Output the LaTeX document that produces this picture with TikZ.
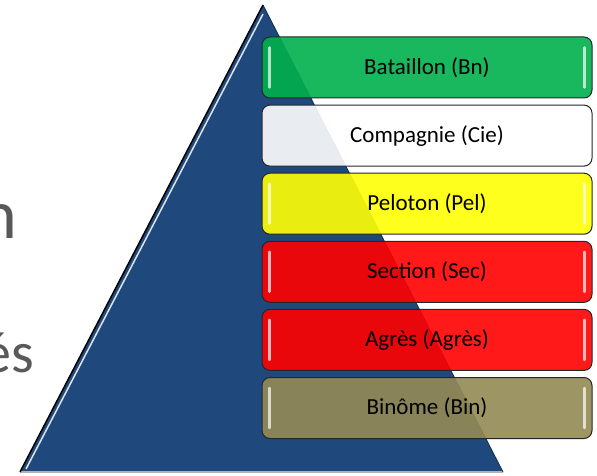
\documentclass[tikz,border=0pt]{standalone}
\usepackage{fontspec}
\setmainfont{Carlito}
\usetikzlibrary{positioning}

\definecolor{pyrblue}{HTML}{1F497D}
\definecolor{bngreen}{HTML}{00B04C}
\definecolor{pelyellow}{HTML}{FFFF05}
\definecolor{secred}{HTML}{FF0000}
\definecolor{binolive}{HTML}{948A54}
\definecolor{wordgray}{HTML}{595959}

\newcommand{\gloss}[1]{%
	\draw[shine] ([xshift=8pt,yshift=-11pt]#1.north west) -- ([xshift=8pt,yshift=11pt]#1.south west);
	\draw[shine] ([xshift=-8pt,yshift=-11pt]#1.north east) -- ([xshift=-8pt,yshift=11pt]#1.south east);}

\begin{document}
\begin{tikzpicture}[x=1pt, y=1pt, node distance=6.1pt]
		\tikzstyle{every node}=[font=\fontsize{23}{27}\selectfont]
		\tikzstyle{word}=[text=wordgray, anchor=base east, inner sep=0pt]
		\tikzstyle{rank}=[draw=black!85, line width=1pt, rounded corners=8pt, minimum width=330pt, minimum height=61pt, fill opacity=.9, text opacity=1, inner sep=0pt]
		\tikzstyle{shine}=[white, line width=2.5pt, line cap=round, opacity=.7]

		\useasboundingbox (0,0) rectangle (597,475);
		\clip (0,0) rectangle (597,475);

		% cut words on the left
		\node[word, font=\fontsize{70}{76}\selectfont] (wn) at (17,237) {n};
		\node[word, font=\fontsize{58}{64}\selectfont] (wes) at (34.5,103) {és};

		% pyramid
		\coordinate (top) at (263,470);
		\coordinate (bl) at (20,3);
		\coordinate (br) at (503,3);
		\fill[pyrblue] (top) -- (bl) -- (br) -- cycle;
		\draw[gray!60, line width=2pt] (bl) -- (br);
		\draw[pyrblue!60!black, line width=.8pt] (top) -- (br);
		\draw[line width=1.5pt] (bl) -- (top);
		\draw[white, line width=1.5pt, opacity=.85] (26,6) -- (263,461);

		% levels
		\node[rank, fill=bngreen] (bn) at (427,407.5) {Bataillon (Bn)};
		\node[rank, fill=white, below=of bn] (cie) {Compagnie (Cie)};
		\node[rank, fill=pelyellow, below=of cie] (pel) {Peloton (Pel)};
		\node[rank, fill=secred, below=of pel] (sec) {Section (Sec)};
		\node[rank, fill=secred, below=of sec] (agr) {Agrès (Agrès)};
		\node[rank, fill=binolive, below=of agr] (bin) {Binôme (Bin)};

		\gloss{bn}
		\gloss{pel}
		\gloss{sec}
		\gloss{agr}
		\gloss{bin}
\end{tikzpicture}
\end{document}
